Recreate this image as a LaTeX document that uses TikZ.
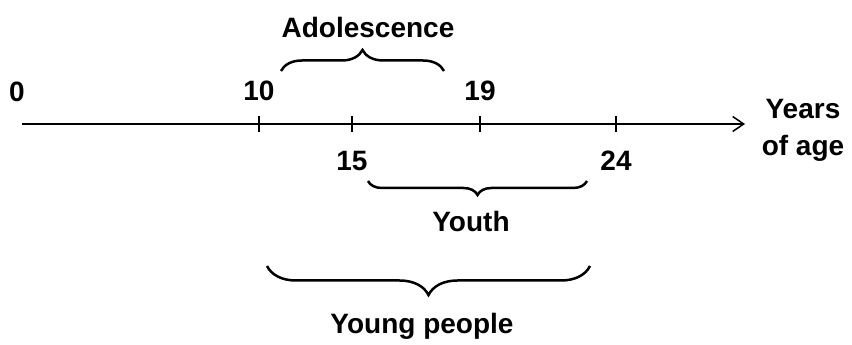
\documentclass[tikz,border=0pt]{standalone}
\usepackage{fontspec}
\setmainfont{Liberation Sans}
\usetikzlibrary{arrows.meta, positioning, decorations.pathreplacing}
\tikzset{
  every picture/.style={font=\bfseries\fontsize{28}{37}\selectfont, line width=1.5pt, x=1pt, y=1pt},
  axis/.style={-{Straight Barb[length=11pt, width=15pt]}, line width=1.5pt},
  tick/.style={line width=1.3pt},
  brc/.style={decorate, decoration={brace, amplitude=#1}, line width=2.5pt},
  num/.style={inner sep=0pt},
  lbl/.style={inner sep=0pt, anchor=base},
}
\begin{document}
\begin{tikzpicture}
  \useasboundingbox (0,0) rectangle (852,345);
  % time axis
  \coordinate (start) at (22,221);
  \coordinate (end) at (745,221);
  \draw[axis] (start) -- (end);
  \node[num, align=center, right=16pt of end, yshift=-6pt] (yrs) {Years\\of age};
  \node[lbl] (n0) at (17,243) {0};
  \foreach \v/\x in {10/259, 15/352, 19/480, 24/616} {
    \coordinate (t\v) at (\x,221);
    \draw[tick] (t\v) ++(0,-8) -- ++(0,16);
  }
  \foreach \v in {10, 19} \node[num, above=22pt of t\v] (n\v) {\v};
  \foreach \v in {15, 24} \node[num, below=26pt of t\v] (n\v) {\v};
  % adolescence
  \coordinate (a1) at (281,274);
  \coordinate (a2) at (444,274);
  \draw[brc=21pt] (a1) -- (a2);
  \node[lbl] (adol) at (368,307) {Adolescence};
  % youth
  \coordinate (y1) at (368,164);
  \coordinate (y2) at (587,164);
  \draw[brc=14pt] (y2) -- (y1);
  \node[lbl] (youth) at (471,113) {Youth};
  % young people
  \coordinate (p1) at (267,79);
  \coordinate (p2) at (590,79);
  \draw[brc=29pt] (p2) -- (p1);
  \node[lbl] (young) at (422,11) {Young people};
\end{tikzpicture}
\end{document}
